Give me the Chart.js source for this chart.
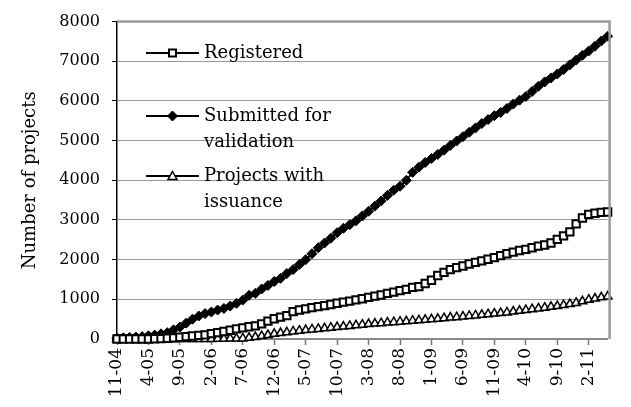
<!DOCTYPE html>
<html>
<head>
<meta charset="utf-8">
<script src="https://cdn.jsdelivr.net/npm/chart.js@4.4.1/dist/chart.umd.min.js"></script>
<style>
html,body{margin:0;padding:0;background:#fff;}
#wrap{width:631px;height:407px;}
</style>
</head>
<body>
<div id="wrap"><canvas id="c" width="631" height="407"></canvas></div>
<script>
// Months 11-04 .. 5-11 (monthly)
const months = [];
(function(){ let m = 11, y = 4; for (let i = 0; i < 79; i++) { months.push(m + '-' + String(y).padStart(2,'0')); m++; if (m > 12) { m = 1; y++; } } })();

const registered = [0,0,0,0,0,0,5,10,20,30,
  45,60,75,90,105,135,160,190,220,255,
  280,310,330,380,450,510,550,590,690,730,
  760,790,815,840,870,900,930,955,985,1015,
  1050,1080,1110,1150,1180,1220,1250,1300,1320,1400,
  1480,1600,1680,1750,1800,1840,1890,1930,1970,2010,
  2050,2100,2150,2190,2230,2260,2300,2340,2370,2420,
  2510,2600,2700,2900,3050,3140,3170,3190,3200];

const submitted = [20,30,40,50,60,80,100,130,160,230,
  300,400,500,580,640,680,730,770,830,900,
  980,1100,1150,1260,1350,1450,1530,1650,1750,1880,
  2000,2150,2300,2420,2540,2680,2790,2880,2980,3100,
  3220,3350,3480,3620,3750,3850,4000,4200,4330,4450,
  4550,4650,4760,4880,4990,5100,5210,5320,5430,5530,
  5630,5710,5810,5920,6020,6110,6240,6370,6480,6580,
  6680,6790,6910,7030,7150,7260,7380,7510,7630];

const issuance = [0,0,0,0,0,0,0,0,0,0,
  0,0,0,0,0,0,5,5,10,10,
  15,30,50,75,100,130,150,170,190,210,
  225,240,255,270,285,300,315,330,345,360,
  375,390,400,415,425,435,445,460,470,485,
  495,510,525,540,550,565,580,595,610,625,
  640,655,670,690,710,730,750,770,790,810,
  830,855,880,910,950,990,1020,1050,1070];

const seriesNames = ['Registered', 'Submitted for validation', 'Projects with issuance'];
const yTicks = [0,1000,2000,3000,4000,5000,6000,7000,8000];

const SERIF = '"DejaVu Serif", serif';

function drawMarker(ctx, style, x, y) {
  ctx.save();
  ctx.strokeStyle = '#000';
  if (style === 'rect') {
    ctx.lineWidth = 2;
    ctx.fillStyle = '#fff';
    ctx.beginPath(); ctx.rect(x - 3.5, y - 3.5, 7, 7); ctx.fill(); ctx.stroke();
  } else if (style === 'rectRot') {
    ctx.lineWidth = 1;
    ctx.fillStyle = '#000';
    ctx.beginPath(); ctx.moveTo(x, y - 5); ctx.lineTo(x + 5, y); ctx.lineTo(x, y + 5); ctx.lineTo(x - 5, y); ctx.closePath(); ctx.fill(); ctx.stroke();
  } else {
    ctx.lineWidth = 1.5;
    ctx.fillStyle = '#fff';
    ctx.beginPath(); ctx.moveTo(x, y - 4.5); ctx.lineTo(x + 4.5, y + 3.5); ctx.lineTo(x - 4.5, y + 3.5); ctx.closePath(); ctx.fill(); ctx.stroke();
  }
  ctx.restore();
}

const legendPlugin = {
  id: 'insideLegend',
  afterDraw(chart) {
    const ctx = chart.ctx;
    const ca = chart.chartArea;
    // plot border (top & right)
    ctx.save();
    ctx.strokeStyle = '#999';
    ctx.lineWidth = 2.5;
    ctx.beginPath();
    ctx.moveTo(ca.left, ca.top);
    ctx.lineTo(ca.right + 2, ca.top);
    ctx.lineTo(ca.right + 2, ca.bottom);
    ctx.stroke();
    ctx.restore();

    const items = [
      {style: 'rect', lines: ['Registered'], y: 53},
      {style: 'rectRot', lines: ['Submitted for', 'validation'], y: 116},
      {style: 'triangle', lines: ['Projects with', 'issuance'], y: 176}
    ];
    const x0 = 146, x1 = 199, tx = 204;
    ctx.save();
    ctx.font = '18px ' + SERIF;
    ctx.fillStyle = '#000';
    ctx.textBaseline = 'middle';
    ctx.textAlign = 'left';
    items.forEach((it) => {
      ctx.strokeStyle = '#000';
      ctx.lineWidth = 2;
      ctx.beginPath(); ctx.moveTo(x0, it.y); ctx.lineTo(x1, it.y); ctx.stroke();
      drawMarker(ctx, it.style, (x0 + x1) / 2, it.y);
      it.lines.forEach((t, j) => ctx.fillText(t, tx, it.y + j * 26));
    });
    ctx.restore();
  }
};

const ctx = document.getElementById('c').getContext('2d');
new Chart(ctx, {
  type: 'line',
  data: {
    labels: months,
    datasets: [
      {label: seriesNames[0], data: registered, borderColor: '#000', borderWidth: 2, pointStyle: 'rect', pointRadius: 5.2, pointBackgroundColor: '#fff', pointBorderColor: '#000', pointBorderWidth: 2, clip: false, tension: 0},
      {label: seriesNames[1], data: submitted, borderColor: '#000', borderWidth: 2, pointStyle: 'rectRot', pointRadius: 5, pointBackgroundColor: '#000', pointBorderColor: '#000', pointBorderWidth: 1, clip: false, tension: 0},
      {label: seriesNames[2], data: issuance, borderColor: '#000', borderWidth: 2, pointStyle: 'triangle', pointRadius: 5, pointBackgroundColor: '#fff', pointBorderColor: '#000', pointBorderWidth: 1.5, clip: false, tension: 0}
    ]
  },
  options: {
    responsive: false,
    animation: false,
    devicePixelRatio: 1,
    layout: {padding: {left: 16, top: 14, right: 7, bottom: 0}},
    plugins: {legend: {display: false}, tooltip: {enabled: false}},
    scales: {
      x: {
        type: 'category',
        offset: false,
        afterFit(s) { s.height = 68; },
        border: {display: true, color: '#888', width: 2},
        grid: {
          drawOnChartArea: false,
          drawTicks: true,
          tickLength: 6,
          tickColor: (c) => (c.index % 5 === 0 ? '#777' : 'rgba(0,0,0,0)'),
          tickWidth: 1.5
        },
        ticks: {
          autoSkip: false,
          minRotation: 90,
          maxRotation: 90,
          padding: 3,
          color: '#000',
          font: {family: SERIF, size: 17},
          callback: (v, i) => (i % 5 === 0 ? months[i] : '')
        }
      },
      y: {
        min: 0,
        max: 8000,
        afterFit(s) { s.width = 101; },
        afterBuildTicks(s) { s.ticks = yTicks.map(v => ({value: v})); },
        border: {display: true, color: '#000', width: 1.5},
        grid: {
          color: '#999',
          lineWidth: 1,
          borderDash: [3, 2],
          tickLength: 5,
          tickColor: '#000',
          tickBorderDash: [],
          tickWidth: 1
        },
        ticks: {
          padding: 12,
          color: '#000',
          font: {family: SERIF, size: 16},
          callback: (v) => String(v)
        },
        title: {
          display: true,
          text: 'Number of projects',
          color: '#000',
          font: {family: SERIF, size: 18},
          padding: {top: 4, bottom: 0}
        }
      }
    }
  },
  plugins: [legendPlugin]
});
</script>
</body>
</html>
